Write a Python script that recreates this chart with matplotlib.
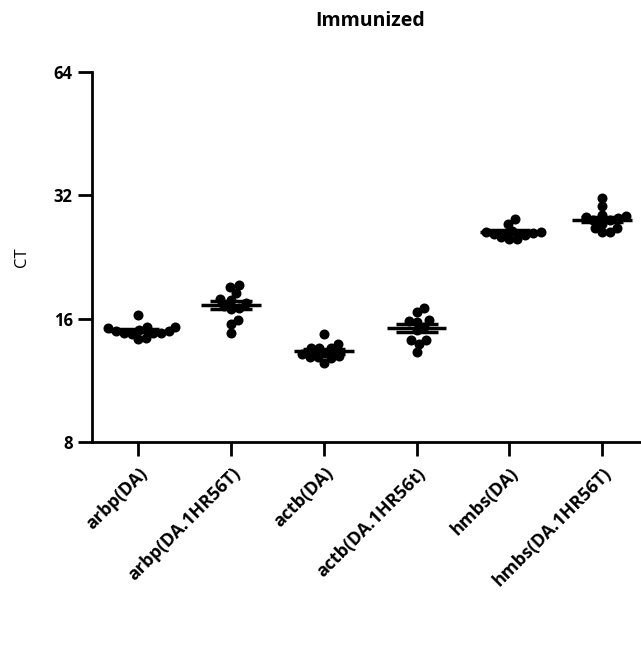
import numpy as np
from matplotlib import pyplot as plt

# data (CT values)
labels = ['arbp(DA)', 'arbp(DA.1HR56T)', 'actb(DA)', 'actb(DA.1HR56t)',
          'hmbs(DA)', 'hmbs(DA.1HR56T)']
arbp_da = [16.3, 15.3, 14.8, 14.8, 15.3, 14.4, 14.3, 15.2, 14.8, 14.7, 14.9, 14.9, 15.0]
arbp_hr = [19.3, 19.1, 18.5, 17.9, 17.8, 17.5, 17.2, 16.9, 17.0, 15.9, 15.5, 14.8]
actb_da = [14.7, 13.9, 13.6, 13.6, 13.6, 13.0, 12.9, 12.5, 12.8, 12.9, 13.1, 13.2]
actb_hr = [17.0, 16.6, 15.9, 15.8, 15.7, 15.3, 15.0, 14.2, 14.2, 13.9, 13.3]
hmbs_da = [28.1, 27.3, 26.0, 25.6, 25.1, 25.1, 25.3, 25.9, 26.0, 26.2, 25.8]
hmbs_hr = [31.5, 30.1, 28.6, 28.3, 27.8, 27.3, 26.6, 26.0, 26.0, 26.7, 27.8, 28.2, 28.5]
groups = [arbp_da, arbp_hr, actb_da, actb_hr, hmbs_da, hmbs_hr]
yticks = [8, 16, 32, 64]

plt.rcParams['font.family'] = ['Open Sans', 'DejaVu Sans']

fig = plt.figure(figsize=(6.41, 6.54), dpi=100)
ax = fig.add_axes([0.1435, 0.324, 0.8565, 0.5657])
ax.set_yscale('log', base=2)
ax.set_ylim(8, 64)
ax.set_xlim(-0.5, 5.42)
fig.canvas.draw()

# pixel scales for the swarm layout
bbox = ax.get_window_extent()
px_per_x = bbox.width / (5.42 + 0.5)
px_per_oct = bbox.height / 3.0
diam = 10.0  # dot diameter in px
gap = 0.8 * diam  # dots may overlap a bit, like the original


def swarm(vals):
    # place dots one by one as close to the centre as possible
    ys = np.log2(np.array(vals)) * px_per_oct
    order = np.argsort(ys)
    placed = []
    offs = np.zeros(len(vals))
    for i in order:
        for step in range(0, 200):
            found = False
            for cand in ([0.0] if step == 0 else [step * 0.5, -step * 0.5]):
                ok = True
                for (px, py) in placed:
                    if (px - cand) ** 2 + (py - ys[i]) ** 2 < gap ** 2:
                        ok = False
                        break
                if ok:
                    offs[i] = cand
                    found = True
                    break
            if found:
                break
        placed.append((offs[i], ys[i]))
    return offs / px_per_x


for i, vals in enumerate(groups):
    x = i + swarm(vals)
    ax.scatter(x, vals, s=52, color='black', zorder=2, linewidths=0)
    m = np.mean(vals)
    sem = np.std(vals, ddof=1) / np.sqrt(len(vals))
    ax.plot([i - 0.32, i + 0.32], [m, m], color='black', lw=2.5, zorder=3,
            solid_capstyle='butt')
    ax.errorbar(i, m, yerr=sem, color='black', capsize=15, capthick=2.5,
                elinewidth=2.5, zorder=3, fmt='none')

ax.set_yticks(yticks)
ax.set_yticklabels([str(t) for t in yticks], fontsize=12, fontweight='bold')
ax.yaxis.set_minor_locator(plt.NullLocator())
ax.set_xticks(range(len(labels)))
ax.set_xticklabels(labels, rotation=45, ha='right', va='top',
                   rotation_mode='anchor', fontsize=13, fontweight='bold')
ax.tick_params(axis='both', length=10, width=2, direction='out', pad=6)
ax.tick_params(axis='y', pad=4)

for side in ['top', 'right']:
    ax.spines[side].set_visible(False)
for side in ['left', 'bottom']:
    ax.spines[side].set_linewidth(2)

ax.set_ylabel('CT', fontsize=12)
ax.yaxis.set_label_coords(-0.113, 0.5)
fig.text(0.577, 0.968, 'Immunized', fontsize=14, fontweight='bold',
         ha='center', va='center')

plt.savefig('out.png', dpi=100)
